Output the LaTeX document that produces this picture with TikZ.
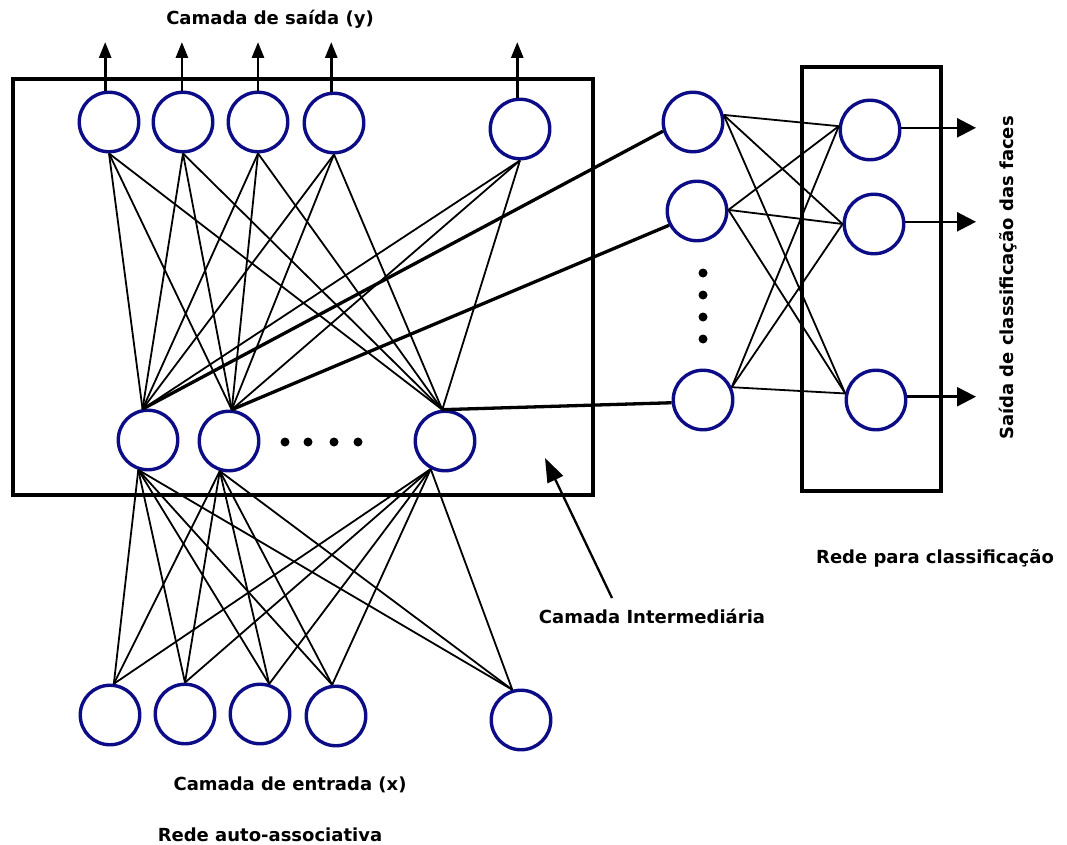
\documentclass[tikz,border=0pt]{standalone}
\usepackage{fontspec}
\setmainfont{DejaVu Sans}
\usetikzlibrary{arrows.meta}
\definecolor{neuronblue}{RGB}{12,12,135}
\begin{document}
\begin{tikzpicture}[x=1pt,y=-1pt,
  neuron/.style={circle,draw=neuronblue,line width=3.4pt,minimum size=59.5pt,inner sep=0pt,fill=white},
  boxframe/.style={draw,line width=4pt},
  wire/.style={line width=1.8pt},
  heavywire/.style={line width=3.3pt},
  uparrow/.style={line width=2.8pt,-{Triangle[length=16pt,width=12pt]}},
  classarrow/.style={line width=2.5pt,-{Triangle[length=19pt,width=19pt]}},
  pointer/.style={line width=2.3pt,-{Triangle[length=24pt,width=17pt]}},
  txt/.style={font=\fontsize{18pt}{22pt}\selectfont\bfseries,inner sep=0pt,anchor=base}
]
\useasboundingbox (0,0) rectangle (1067,845);

% frames of the two networks
\draw[boxframe] (12.5,79) rectangle (593,495);
\draw[boxframe] (802,67) rectangle (941,491);

% auto-associative network: output, hidden and input layers
\node[neuron] (T1) at (109,122) {};
\node[neuron] (T2) at (183,122) {};
\node[neuron] (T3) at (258,122) {};
\node[neuron] (T4) at (334,123) {};
\node[neuron] (T5) at (520,129) {};

\node[neuron] (H1) at (148,440) {};
\node[neuron] (H2) at (229,441) {};
\node[neuron] (H3) at (445,441) {};

\node[neuron] (I1) at (110,715) {};
\node[neuron] (I2) at (185,714) {};
\node[neuron] (I3) at (260,714) {};
\node[neuron] (I4) at (336,716) {};
\node[neuron] (I5) at (521,720) {};

% classification network
\node[neuron] (A) at (693,122) {};
\node[neuron] (B) at (697,211) {};
\node[neuron] (C) at (703,400) {};

\node[neuron] (D) at (870,130) {};
\node[neuron] (E) at (874,224) {};
\node[neuron] (F) at (876,400) {};

% ellipsis dots
\foreach \x in {285,308,334,358} \fill (\x,442) circle[radius=4.5];
\foreach \y in {273,295,317,339} \fill (703,\y) circle[radius=4.5];

% hidden -> output layer
\foreach \t in {1,...,5}
  \foreach \h/\a in {1/100,2/85,3/95}
    \draw[wire] (T\t.south) -- (H\h.\a);

% input -> hidden layer
\foreach \h/\a in {1/252,2/253,3/243}
  \foreach \i/\b in {1/83,2/90,3/73,4/97,5/106}
    \draw[wire] (H\h.\a) -- (I\i.\b);

% hidden layer feeding the classifier
\draw[heavywire] (H1.100) -- (A.197);
\draw[heavywire] (H2.85) -- (B.207);
\draw[heavywire] (H3.95) -- (C.185);

% classifier connections
\foreach \s/\a in {A/13,B/2,C/24}
  \foreach \d/\b in {D/173,E/180,F/168}
    \draw[wire] (\s.\a) -- (\d.\b);

% output arrows
\coordinate (outtop) at (0,42);
\foreach \t/\a in {T1/97,T2/92,T3/90,T4/95,T5/95}
  \draw[uparrow] (\t.\a) -- (\t.\a |- outtop);

\coordinate (classend) at (976,0);
\foreach \n/\a in {D/4,E/4,F/6}
  \draw[classarrow] (\n.\a) -- (\n.\a -| classend);

% labels
\node[txt] (ttl) at (270,25) {Camada de saída (y)};
\node[txt] (inp) at (290,790) {Camada de entrada (x)};
\node[txt] (auto) at (270,841) {Rede auto-associativa};
\node[txt] (cls) at (935,563) {Rede para classificação};
\node[txt] (mid) at (652,623) {Camada Intermediária};
\node[txt,rotate=90] (faces) at (1013,278) {Saída de classificação das faces};

\coordinate (pointtail) at (612,598);
\coordinate (pointtip) at (545,458);
\draw[pointer] (pointtail) -- (pointtip);
\end{tikzpicture}
\end{document}
